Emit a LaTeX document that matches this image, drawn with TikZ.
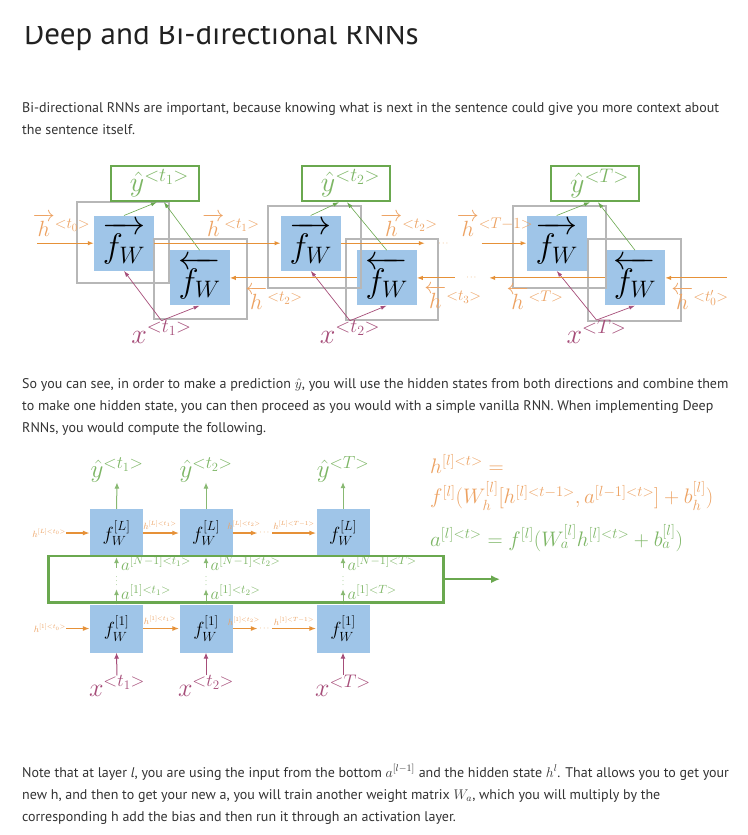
\RequirePackage{fix-cm}
\documentclass[tikz,border=0pt]{standalone}
\usepackage{amsmath}
\usepackage{fontspec}
\setmainfont{PT Sans}
\usepackage{tikz}
\usetikzlibrary{arrows.meta,positioning,calc}
\definecolor{cellblue}{HTML}{9FC5E8}
\definecolor{framegray}{HTML}{B7B7B7}
\definecolor{outgreen}{HTML}{6AA84F}
\definecolor{labgreen}{HTML}{7DB665}
\definecolor{hidorange}{HTML}{E69138}
\definecolor{laborange}{HTML}{EDA262}
\definecolor{inmagenta}{HTML}{A64D79}
\definecolor{bodytext}{HTML}{333333}

\tikzset{
  para/.style={anchor=base west, inner sep=0, text=bodytext, font=\fontsize{14}{16}\selectfont},
  fcell/.style={fill=cellblue, minimum width=60, minimum height=55, inner sep=0, font=\fontsize{34}{34}\selectfont},
  lcell/.style={fill=cellblue, minimum width=53, minimum height=48, inner sep=0, font=\fontsize{19}{19}\selectfont},
  frame/.style={draw=framegray, line width=2pt},
  ybox/.style={draw=outgreen, line width=2.5pt, minimum width=88, minimum height=35, inner sep=0, text=labgreen, font=\fontsize{28}{28}\selectfont},
  xlab/.style={inner sep=0, text=inmagenta, font=\fontsize{28}{28}\selectfont},
  xlabb/.style={inner sep=0, text=inmagenta, font=\fontsize{26}{26}\selectfont},
  ylab/.style={inner sep=0, text=labgreen, font=\fontsize{25}{25}\selectfont},
  hlab/.style={inner sep=0, text=laborange, font=\fontsize{22}{22}\selectfont},
  hsmall/.style={inner sep=0, text=laborange, font=\fontsize{9}{9}\selectfont},
  alab/.style={anchor=west, inner sep=0, text=labgreen, font=\fontsize{17}{17}\selectfont},
  dotsnode/.style={inner sep=0, text=hidorange, font=\fontsize{8}{8}\selectfont},
  vdotsnode/.style={inner sep=0, minimum height=21, text=labgreen, font=\fontsize{7}{7}\selectfont},
  harr/.style={-{Latex[length=6pt,width=4.5pt]}, hidorange, line width=1.1pt},
  harrb/.style={-{Latex[length=7pt,width=5pt]}, hidorange, line width=1.4pt},
  garr/.style={-{Latex[length=6pt,width=4pt]}, outgreen, line width=0.6pt},
  garrb/.style={-{Latex[length=6pt,width=5pt]}, outgreen!80, line width=1pt},
  marr/.style={-{Latex[length=6pt,width=4pt]}, inmagenta, line width=0.7pt},
  marrb/.style={-{Latex[length=6pt,width=5pt]}, inmagenta, line width=1pt},
  stackbox/.style={draw=outgreen, line width=2.5pt, minimum width=395, minimum height=46.3, inner sep=0},
  eqh/.style={anchor=west, inner sep=0, text=laborange, font=\fontsize{21}{21}\selectfont},
  eqa/.style={anchor=west, inner sep=0, text=labgreen, font=\fontsize{21}{21}\selectfont}
}

\begin{document}
\begin{tikzpicture}[x=1pt,y=-1pt]
\useasboundingbox (0,0) rectangle (747,835);
\fill[white] (0,0) rectangle (747,835);

% --- Title and text ---
\begin{scope}
  \clip (0,26.5) rectangle (747,60);
  \node[anchor=base west, inner sep=0, text=black!87, font=\fontsize{31}{32}\selectfont] (title) at (24,44) {Deep and Bi-directional RNNs};
\end{scope}
\node[para] (p1a) at (22,112) {Bi-directional RNNs are important, because knowing what is next in the sentence could give you more context about};
\node[para] (p1b) at (22,134) {the sentence itself.};

% --- Bi-directional RNN (top) ---
% unit t1
\node[fcell] (fw1) at (124,243.2) {$\overrightarrow{f_W}$};
\node[fcell] (bw1) at (199.6,277.9) {$\overleftarrow{f_W}$};
\draw[frame] (76.7,201.7) rectangle (169,283);
\draw[frame] (154,239) rectangle (246.7,319);
\node[ybox] (yh1) at (154.9,183.4) {\hspace*{9pt}$\hat{y}^{<t_1>}$};
\node[xlab] (x1) at (161.5,332) {$x^{<t_1>}$};

% unit t2
\node[fcell] (fw2) at (310.7,243.2) {$\overrightarrow{f_W}$};
\node[fcell] (bw2) at (386.7,277.9) {$\overleftarrow{f_W}$};
\draw[frame] (268,206) rectangle (361,288);
\draw[frame] (345.7,239) rectangle (438,320);
\node[ybox] (yh2) at (346,183.5) {\hspace*{9pt}$\hat{y}^{<t_2>}$};
\node[xlab] (x2) at (350,332) {$x^{<t_2>}$};

% unit T
\node[fcell] (fwT) at (556.7,243.2) {$\overrightarrow{f_W}$};
\node[fcell] (bwT) at (635,277.9) {$\overleftarrow{f_W}$};
\draw[frame] (512.7,205.7) rectangle (605.7,287.7);
\draw[frame] (588,239) rectangle (680.7,320.7);
\node[ybox] (yhT) at (595,183.5) {\hspace*{9pt}$\hat{y}^{<T>}$};
\node[xlab] (xT) at (596.5,332) {$x^{<T>}$};

% outputs and inputs
\draw[garr] (fw1.north) -- ([xshift=2pt]yh1.south);
\draw[garr] (bw1.north) -- ([xshift=9pt]yh1.south);
\draw[garr] (fw2.north) -- ([xshift=-7pt]yh2.south);
\draw[garr] (bw2.north) -- ([xshift=1pt]yh2.south);
\draw[garr] (fwT.north) -- ([xshift=-5pt]yhT.south);
\draw[garr] (bwT.north) -- ([xshift=3pt]yhT.south);
\draw[marr] (x1.north) -- (fw1.south);
\draw[marr] (x1.north) -- (bw1.south);
\draw[marr] (x2.north) -- (fw2.south);
\draw[marr] (x2.north) -- (bw2.south);
\draw[marr] (xT.north) -- (fwT.south);
\draw[marr] (xT.north) -- (bwT.south);

% forward hidden states
\coordinate (hin) at (37,243.2);
\coordinate (fTin) at (481.7,243.2);
\node[dotsnode, minimum width=38] (fdots) at (444,243.2) {$\cdots$};
\draw[harr] (hin) -- (fw1.west);
\draw[harr] (fw1.east) -- (fw2.west);
\draw[harr] (fw2.east) -- (fdots.west);
\draw[harr] (fTin) -- (fwT.west);
\node[hlab] (hf0) at (61.5,225) {$\overrightarrow{h}^{<t_0>}$};
\node[hlab] (hf1) at (231,225) {$\overrightarrow{h}^{<t_1>}$};
\node[hlab] (hf2) at (409,225) {$\overrightarrow{h}^{<t_2>}$};
\node[hlab] (hfT) at (495,225) {$\overrightarrow{h}^{<T-1>}$};

% backward hidden states
\coordinate (bin) at (726.7,277.9);
\node[dotsnode, minimum width=34] (bdots) at (472,277.9) {$\cdots$};
\draw[harr] (bin) -- (bwT.east);
\draw[harr] (bwT.west) -- (bdots.east);
\draw[harr] (bdots.west) -- (bw2.east);
\draw[harr] (bw2.west) -- (bw1.east);
\node[hlab] (hb0) at (700,298) {$\overleftarrow{h}^{<t_0'>}$};
\node[hlab] (hbT) at (535,298) {$\overleftarrow{h}^{<T>}$};
\node[hlab] (hb3) at (453,297) {$\overleftarrow{h}^{<t_3>}$};
\node[hlab] (hb2) at (274,298) {$\overleftarrow{h}^{<t_2>}$};

\node[para] (p2a) at (22,388) {So you can see, in order to make a prediction $\hat{y}$, you will use the hidden states from both directions and combine them};
\node[para] (p2b) at (22,410) {to make one hidden state, you can then proceed as you would with a simple vanilla RNN. When implementing Deep};
\node[para] (p2c) at (22,432) {RNNs, you would compute the following.};

% --- Deep RNN (bottom) ---
\node[lcell] (L1) at (116.5,533) {$f_W^{[L]}$};
\node[lcell] (L2) at (206,533) {$f_W^{[L]}$};
\node[lcell] (LT) at (343,533) {$f_W^{[L]}$};
\node[lcell] (F1) at (116.5,628.5) {$f_W^{[1]}$};
\node[lcell] (F2) at (206,628.5) {$f_W^{[1]}$};
\node[lcell] (FT) at (343,628.5) {$f_W^{[1]}$};

\node[ylab] (yb1) at (117,470) {$\hat{y}^{<t_1>}$};
\node[ylab] (yb2) at (206,470) {$\hat{y}^{<t_2>}$};
\node[ylab] (ybT) at (343,469) {$\hat{y}^{<T>}$};
\draw[garrb] (L1.north) -- (yb1.south);
\draw[garrb] (L2.north) -- (yb2.south);
\draw[garrb] (LT.north) -- (ybT.south);

\node[xlabb] (xb1) at (117,686) {$x^{<t_1>}$};
\node[xlabb] (xb2) at (206,686) {$x^{<t_2>}$};
\node[xlabb] (xbT) at (343,686) {$x^{<T>}$};
\draw[marrb] (xb1.north) -- (F1.south);
\draw[marrb] (xb2.north) -- (F2.south);
\draw[marrb] (xbT.north) -- (FT.south);

% layers in between
\node[vdotsnode] (v1) at (116.5,578.5) {$\vdots$};
\node[vdotsnode] (v2) at (206,578.5) {$\vdots$};
\node[vdotsnode] (vT) at (343,578.5) {$\vdots$};
\draw[garrb] (F1.north) -- (v1.south);
\draw[garrb] (v1.north) -- (L1.south);
\draw[garrb] (F2.north) -- (v2.south);
\draw[garrb] (v2.north) -- (L2.south);
\draw[garrb] (FT.north) -- (vT.south);
\draw[garrb] (vT.north) -- (LT.south);
\node[alab] (aN1) at (121,563) {$a^{[N-1]<t_1>}$};
\node[alab] (aN2) at (210.5,563) {$a^{[N-1]<t_2>}$};
\node[alab] (aNT) at (347.5,563) {$a^{[N-1]<T>}$};
\node[alab] (a11) at (121,592) {$a^{[1]<t_1>}$};
\node[alab] (a12) at (210.5,592) {$a^{[1]<t_2>}$};
\node[alab] (a1T) at (347.5,592) {$a^{[1]<T>}$};

% hidden states, layer L
\node[hsmall, anchor=east] (hL0) at (66,533) {$h^{[L]<t_0>}$};
\node[dotsnode, minimum width=14] (dL) at (265,533) {$\cdots$};
\draw[harrb] (hL0.east) -- (L1.west);
\draw[harrb] (L1.east) -- (L2.west);
\draw[harrb] (L2.east) -- (dL.west);
\draw[harrb] (dL.east) -- (LT.west);
\node[hsmall] (hL1) at (160,525) {$h^{[L]<t_1>}$};
\node[hsmall] (hL2) at (244,525) {$h^{[L]<t_2>}$};
\node[hsmall] (hLT) at (294,525) {$h^{[L]<T-1>}$};

% hidden states, layer 1
\node[hsmall, anchor=east] (h10) at (66,628.5) {$h^{[1]<t_0>}$};
\node[dotsnode, minimum width=14] (d1) at (265,628.5) {$\cdots$};
\draw[harrb] (h10.east) -- (F1.west);
\draw[harrb] (F1.east) -- (F2.west);
\draw[harrb] (F2.east) -- (d1.west);
\draw[harrb] (d1.east) -- (FT.west);
\node[hsmall] (h11) at (160,620) {$h^{[1]<t_1>}$};
\node[hsmall] (h12) at (244,621) {$h^{[1]<t_2>}$};
\node[hsmall] (h1T) at (294,621) {$h^{[1]<T-1>}$};

% the stack of middle layers
\node[stackbox] (stk) at (245.8,579.2) {};
\coordinate (sout) at (500,579.2);
\draw[-{Latex[length=9pt,width=8pt]}, outgreen, line width=2pt] (stk.east) -- (sout);

% equations
\node[eqh] (eq1) at (430,464) {$h^{[l]<t>} =$};
\node[eqh] (eq2) at (430,496) {$f^{[l]}(W_h^{[l]}[h^{[l]<t-1>}, a^{[l-1]<t>}] + b_h^{[l]})$};
\node[eqa] (eq3) at (430,538) {$a^{[l]<t>} = f^{[l]}(W_a^{[l]}h^{[l]<t>} + b_a^{[l]})$};

\node[para] (p3a) at (22,777) {Note that at layer \textit{l}, you are using the input from the bottom $a^{[l-1]}$ and the hidden state $h^l$. That allows you to get your};
\node[para] (p3b) at (22,799) {new h, and then to get your new a, you will train another weight matrix $W_a$, which you will multiply by the};
\node[para] (p3c) at (22,821) {corresponding h add the bias and then run it through an activation layer.};
\end{tikzpicture}
\end{document}
